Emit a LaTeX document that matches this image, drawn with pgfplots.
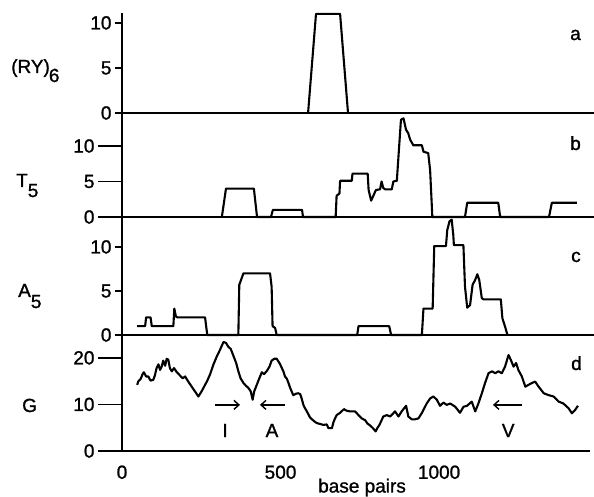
\documentclass[border=0pt]{standalone}
\usepackage{pgfplots}
\pgfplotsset{compat=1.18}
\usepackage{fontspec}
\setmainfont{Liberation Sans}[BoldFont={Liberation Sans}, BoldFeatures={FakeBold=1.2}]
\usetikzlibrary{arrows.meta}

\newcommand{\lbl}{\fontsize{19}{21}\selectfont\bfseries}

\pgfplotsset{
  panel/.style={
    scale only axis,
    axis lines=left,
    axis line style={-, line width=2.2pt},
    xmin=0, xmax=1489, width=472pt,
    tick align=outside,
    every tick/.style={black, line width=1.8pt},
    tick label style={font=\lbl},
    /pgf/number format/assume math mode=true,
    /pgf/number format/1000 sep={},
    xtick=\empty,
    clip=false,
  },
  dataline/.style={black, line width=2.1pt, line join=round, no marks},
}

\begin{document}
\begin{tikzpicture}
\useasboundingbox (0pt,0pt) rectangle (594pt,497pt);

% Panel a
\begin{axis}[panel, at={(122pt,384pt)}, anchor=south west,
  height=100pt, ymin=0, ymax=11.1, ytick={0,5,10}, major tick length=7pt]
\addplot[dataline] coordinates {(587,0) (612,11) (688,11) (713,0)};
\end{axis}

% Panel b
\begin{axis}[panel, at={(122pt,280pt)}, anchor=south west,
  height=104pt, ymin=0, ymax=14.65, ytick={0,5,10}, major tick length=24pt]
\addplot[dataline] coordinates {
(315,0) (328,4) (416,4) (426,0) (470,0) (476,1) (568,1) (571,0)
(674,0) (677,3) (686,3.3) (688,5.1) (725,5.1) (727,6.1) (775,6.1) (778,3.8)
(786,2.3) (791,2.8) (801,3.8) (814,3.9) (819,5.0) (824,4.1) (830,3.9) (851,3.9)
(856,5.0) (867,5.1) (875,10.4) (880,13.7) (888,13.9) (896,12.3) (903,11.8)
(909,10.9) (919,10.1) (946,10.1) (951,9.2) (966,9.0) (972,6.6) (979,0)
(1082,0) (1089,2) (1187,2) (1193,0) (1347,0) (1356,2) (1435,2)};
\end{axis}

% Panel c
\begin{axis}[panel, at={(122pt,162pt)}, anchor=south west,
  height=118pt, ymin=0, ymax=13.4, ytick={0,5,10}, major tick length=7pt]
\addplot[dataline] coordinates {
(48,1) (73,1) (76,2) (90,2) (94,1) (162,1) (165,3) (170,2.1) (175,2) (262,2) (269,0)
(367,0) (370,5.7) (374,6.1) (383,7) (467,7) (472,5.5) (475,1) (483,0.8) (488,0)
(742,0) (746,1) (843,1) (849,0)
(946,0) (951,3) (980,3) (985,10.1) (1022,10.1) (1026,11.9) (1033,12.9) (1040,13.1)
(1045,11.4) (1047,10.2) (1077,10.2) (1082,5.5) (1089,3.1) (1098,3.4) (1106,5.7)
(1114,6.25) (1121,6.9) (1127,6.25) (1135,4.2) (1140,4.05) (1195,4.05) (1200,1.9)
(1208,1) (1216,0)};
\end{axis}

% Panel d
\begin{axis}[panel, at={(122pt,46pt)}, anchor=south west,
  xmax=1476, width=468pt,
  height=116pt, ymin=0, ymax=24.9, ytick={0,10,20}, major tick length=24pt,
  xtick={0,500,1000}, xtick style={draw=none},
  xticklabel style={yshift=13pt}]
\addplot[dataline] coordinates {
(48,14.2) (51,14.9) (59,15.5) (65,16.5) (69,16.9) (76,16.0) (83,16.0) (90,15.1)
(99,15.3) (104,16.3) (109,17.8) (115,18.6) (120,17.4) (125,18.1) (130,19.4)
(136,18.3) (141,19.8) (146,19.6) (151,17.8) (157,17.1) (164,17.8) (173,16.9)
(183,16.2) (191,15.6) (199,16.0) (209,14.9) (220,13.8) (230,12.8) (241,11.7)
(251,12.8) (262,14.2) (269,15.1) (278,16.5) (288,18.5) (299,20.3) (309,21.7)
(320,23.4) (328,23.2) (335,22.4) (343,21.9) (351,20.5) (360,18.9) (367,17.1)
(374,15.6) (383,14.6) (391,14.0) (399,13.5) (406,12.8) (412,11.0) (417,12.8)
(425,14.2) (433,15.6) (441,16.9) (448,16.5) (457,17.2) (465,18.1) (472,19.4)
(480,19.8) (488,19.8) (498,18.7) (509,17.1) (514,16.0) (520,15.5) (525,14.6)
(530,13.6) (540,12.0) (549,12.3) (556,12.4) (562,12.2) (567,11.2) (572,9.9)
(577,9.2) (583,8.5) (593,7.2) (604,6.5) (614,6.0) (625,5.8) (635,5.6) (646,5.7)
(651,4.9) (662,4.9) (667,6.2) (672,7.0) (677,7.7) (688,8.2) (700,9.0) (704,8.8)
(711,8.6) (719,8.5) (735,8.5) (746,7.7) (756,7.0) (767,6.6) (774,5.9) (782,5.5)
(790,5.0) (800,4.2) (806,5.0) (812,5.6) (824,7.4) (835,7.7) (846,7.4) (861,8.5)
(872,7.4) (882,8.5) (896,9.7) (903,7.4) (914,6.8) (924,6.8) (935,7.0) (946,8.2)
(961,10.2) (972,11.3) (982,11.7) (993,11.0) (1003,9.7) (1014,10.4) (1024,9.9)
(1035,10.2) (1051,9.5) (1066,8.2) (1077,9.5) (1088,9.7) (1103,10.6) (1114,8.5)
(1124,10.2) (1135,12.4) (1145,14.6) (1156,16.7) (1167,17.1) (1177,16.7)
(1187,17.1) (1198,16.7) (1208,18.1) (1219,20.6) (1226,19.6) (1235,18.1)
(1243,18.9) (1250,17.4) (1261,16.0) (1272,13.8) (1282,14.2) (1293,14.6)
(1303,14.9) (1314,13.8) (1330,12.4) (1345,12.0) (1361,11.7) (1377,10.6)
(1392,10.2) (1408,9.2) (1419,8.1) (1429,8.8) (1438,9.7)};
\draw[line width=1.4pt, -{Straight Barb[length=5pt,width=9pt]}] (axis cs:293,9.9) -- (axis cs:372,9.9);
\draw[line width=1.4pt, -{Straight Barb[length=5pt,width=9pt]}] (axis cs:514,9.9) -- (axis cs:435,9.9);
\draw[line width=1.4pt, -{Straight Barb[length=5pt,width=9pt]}] (axis cs:1262,9.9) -- (axis cs:1170,9.9);
\node[font=\lbl] at (axis cs:325,4.4) {I};
\node[font=\lbl] at (axis cs:473,4.4) {A};
\node[font=\lbl] at (axis cs:1218,4.4) {V};
\end{axis}

% Labels
\begin{scope}[every node/.style={font=\lbl, inner sep=0pt, anchor=base west}]
\node at (11pt,424pt) {(RY)\kern-1pt\raisebox{-9pt}{6}};
\node at (16pt,310pt) {T\raisebox{-10pt}{5}};
\node at (18pt,200pt) {A\raisebox{-11pt}{5}};
\node at (22pt,85pt) {G};
\node at (570pt,457pt) {a};
\node at (570pt,347pt) {b};
\node at (571pt,235pt) {c};
\node at (571pt,127pt) {d};
\node at (318pt,4.5pt) {base pairs};
\end{scope}
\end{tikzpicture}
\end{document}
